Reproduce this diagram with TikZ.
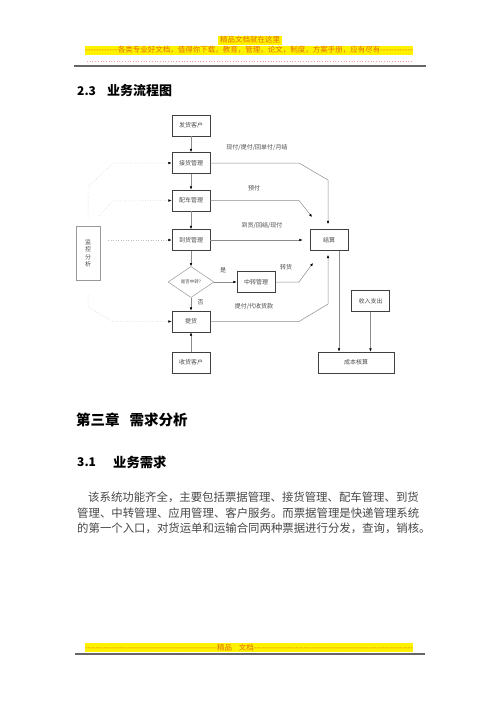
\documentclass[tikz,border=0pt]{standalone}
\usepackage{fontspec}
\setmainfont{Noto Sans CJK SC}
\usetikzlibrary{positioning,calc,arrows.meta,shapes.geometric}
\tikzset{>={Latex[length=3.2pt,width=2.6pt,color=black]}}
\definecolor{hdr}{RGB}{226,110,10}
\tikzset{
  box/.style={draw=black!75,line width=.8pt,minimum width=38pt,minimum height=21pt,inner sep=0pt,font=\fontsize{6}{7}\selectfont,text=black!70},
  flow/.style={->,draw=black!45,line width=.5pt},
  watch/.style={->,draw=black!25,line width=.5pt,dotted},
  lbl/.style={font=\fontsize{6}{7}\selectfont,text=black!70},
  body/.style={anchor=west,inner sep=0pt,font=\fontsize{11.4}{12}\selectfont,text=black!72},
  banner/.style={inner sep=0pt,font=\fontsize{7.5}{8}\selectfont,text=hdr}
}

\begin{document}
\begin{tikzpicture}[x=1pt,y=-1pt]
\useasboundingbox[fill=white] (0,0) rectangle (500,707);
\fill[yellow] (218,36) rectangle (282,44.5);
\node[banner] (top) at (250,40) {精品文档就在这里};
\fill[yellow] (85,45.5) rectangle (413,55);
\node[banner] (slogan) at (249,50) {\makebox[328pt]{\xleaders\hbox{-}\hfill 各类专业好文档，值得你下载，教育，管理，论文，制度，方案手册，应有尽有\xleaders\hbox{-}\hfill}};
\draw[red!40,dotted,line width=.7pt] (87,61) -- (412,61);
\draw[black!60,line width=1.3pt] (74,66) -- (426,66);

\node[anchor=west,inner sep=0pt,font=\bfseries\fontsize{12}{14}\selectfont] (secno) at (77,91) {2.3};
\node[anchor=west,inner sep=0pt,font=\bfseries\fontsize{13}{15}\selectfont] (sec) at (107,91) {业务流程图};

\node[box] (ship) at (191,125.5) {发货客户};
\node[box] (recv) at (191,163) {接货管理};
\node[box] (truck) at (191,200.5) {配车管理};
\node[box] (arrive) at (191,240) {到货管理};
\node[diamond,draw=black!40,line width=.5pt,minimum width=46pt,minimum height=31pt,inner sep=0pt,font=\fontsize{4.5}{5}\selectfont,text=black!70] (transq) at (191,282) {是否中转?};
\node[box] (relay) at (256,282) {中转管理};
\node[box] (pick) at (191,321.5) {提货};
\node[box] (cons) at (191,362.5) {收货客户};
\node[box] (settle) at (329,240) {结算};
\node[box] (io) at (370.5,301) {收入支出};
\node[box,minimum width=76pt] (cost) at (356,362.5) {成本核算};
\node[box,draw=black!40,line width=.5pt,minimum width=24pt,minimum height=54pt,align=center,font=\fontsize{6}{7.5}\selectfont] (watch) at (88,253) {监\\控\\分\\析};

\draw[flow] (ship) -- (recv);
\draw[flow] (recv) -- (truck);
\draw[flow] (truck) -- (arrive);
\draw[flow] (arrive) -- (transq);
\draw[flow] (transq) -- node[lbl,right,pos=.35,xshift=3pt]{否} (pick);
\draw[flow] (transq) -- node[lbl,pos=.4,above=5pt]{是} (relay);
\draw[flow] (cons) -- (pick);

\coordinate (relayin) at (313,263);
\coordinate (truckin) at (312,217);
\draw[flow] (recv.east) -- (299,163) -- (328,180) -- ([yshift=5pt]settle.north -| 328,0);
\draw[flow] (truck.east) -- (299,200.5) -- (truckin);
\draw[flow] (arrive) -- ([xshift=-7pt]settle.west);
\draw[flow] (relay.east) -- (299,282) -- (relayin);
\draw[flow] (pick.east) -- (299,321.5) -- (328,304) -- ([yshift=-4pt]settle.south -| 328,0);
\draw[flow] ([xshift=10pt]settle.south) -- ([xshift=10pt]settle.south |- cost.north);
\draw[flow] (io.south) -- (io.south |- cost.north);

\node[lbl] (l1) at (257,148) {现付/提付/回单付/月结};
\node[lbl] (l2) at (254,188) {预付};
\node[lbl] (l3) at (262,225) {到货/回结/现付};
\node[lbl] (l4) at (286,267) {转货};
\node[lbl] (l5) at (254,306) {提付/代收货款};

\coordinate (w1) at ([yshift=8pt]watch.north);
\coordinate (w2) at ([xshift=-1pt,yshift=10pt]watch.north east);
\coordinate (w3) at ([xshift=8pt]watch.east |- arrive);
\coordinate (w4) at ([yshift=-15pt]watch.south);
\draw[watch] (w1) -- (88,187) -- (113,163) -- (recv.west);
\draw[watch] (w2) -- (113,201) -- (truck.west);
\draw[watch] (w3) -- (arrive.west);
\draw[watch] (w4) -- (88,307) -- (113,321.5) -- (pick.west);

\node[anchor=west,inner sep=0pt,font=\bfseries\fontsize{14.5}{16}\selectfont] (chap) at (76,420) {第三章\hspace{10pt}需求分析};
\node[anchor=west,inner sep=0pt,font=\bfseries\fontsize{12}{14}\selectfont] (subno) at (77,462) {3.1};
\node[anchor=west,inner sep=0pt,font=\bfseries\fontsize{13.3}{15}\selectfont] (sub) at (113,462) {业务需求};

\node[body] (p1) at (88,497) {该系统功能齐全，主要包括票据管理、接货管理、配车管理、到货};
\node[body] (p2) at (77,513) {管理、中转管理、应用管理、客户服务。而票据管理是快递管理系统};
\node[body] (p3) at (77,528.5) {的第一个入口，对货运单和运输合同两种票据进行分发，查询，销核。};

\fill[yellow] (85,643) rectangle (413,652);
\node[banner] (foot) at (249,647.5) {\makebox[328pt]{\xleaders\hbox{-}\hskip 132pt 精品\hspace{7pt}文档\xleaders\hbox{-}\hfill}};
\draw[black!60,line width=1.3pt] (75,654) -- (425,654);
\end{tikzpicture}
\end{document}
